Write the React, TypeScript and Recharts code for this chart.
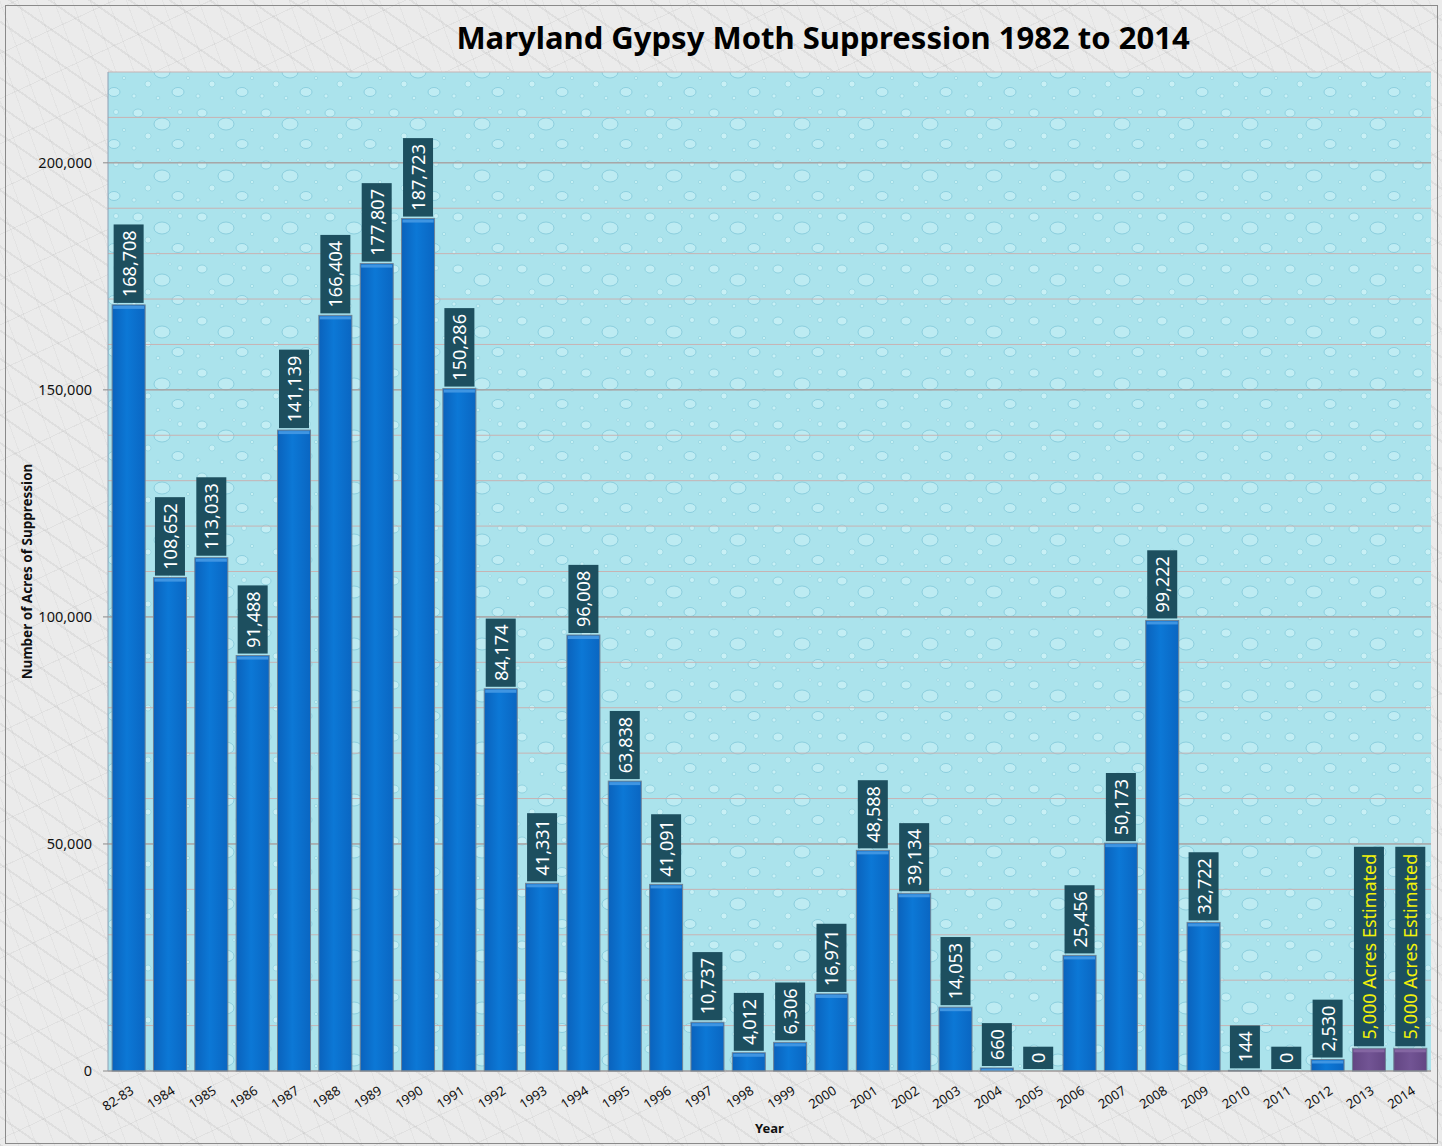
import React from 'react';
import { BarChart, Bar, XAxis, YAxis, CartesianGrid, LabelList } from 'recharts';

const years = [
  '82-83', '1984', '1985', '1986', '1987', '1988', '1989', '1990', '1991', '1992', '1993',
  '1994', '1995', '1996', '1997', '1998', '1999', '2000', '2001', '2002', '2003', '2004',
  '2005', '2006', '2007', '2008', '2009', '2010', '2011', '2012', '2013', '2014',
];
const acres = [
  168708, 108652, 113033, 91488, 141139, 166404, 177807, 187723, 150286, 84174, 41331,
  96008, 63838, 41091, 10737, 4012, 6306, 16971, 48588, 39134, 14053, 660,
  0, 25456, 50173, 99222, 32722, 144, 0, 2530, 5000, 5000,
];
const estimatedYears = ['2013', '2014'];
const estimateText = '5,000 Acres Estimated';
const gridValues = [
  0, 10000, 20000, 30000, 40000, 50000, 60000, 70000, 80000, 90000, 100000, 110000,
  120000, 130000, 140000, 150000, 160000, 170000, 180000, 190000, 200000, 210000, 220000,
];
const labelledTicks = [0, 50000, 100000, 150000, 200000];

const data = years.map((year, i) => ({
  year,
  acres: acres[i],
  estimated: estimatedYears.includes(year),
}));

const FONT = '"Noto Sans", "Open Sans", sans-serif';
const fmt = (v: number) => v.toLocaleString('en-US');

// rough width of a string in Noto Sans, in em
const charWidth = (c: string) => {
  if (/[0-9]/.test(c)) return 0.572;
  if (c === ',' || c === ' ') return 0.26;
  if (c === 'm') return 0.86;
  if (c === 'i' || c === 't' || c === 'r') return 0.36;
  if (/[A-Z]/.test(c)) return 0.6;
  return 0.55;
};
const textWidth = (s: string, fs: number) => s.split('').reduce((a, c) => a + charWidth(c) * fs, 0);

const BarShape = (props: any) => {
  const { x, y, width, height, payload } = props;
  if (!height || height <= 0) return <g />;
  const est = payload && payload.estimated;
  return (
    <g>
      <rect x={x} y={y} width={width} height={height} fill={est ? 'url(#purpleBar)' : 'url(#blueBar)'} stroke="#6f8396" strokeWidth={1} />
      <rect x={x + 1} y={y + 1} width={width - 2} height={Math.min(3, height - 1)} fill={est ? '#8466a2' : '#3f95e2'} />
    </g>
  );
};

const renderLabel = (props: any) => {
  const { x, y, width, value, index } = props;
  const est = data[index] && data[index].estimated;
  const text = est ? estimateText : fmt(Number(value));
  const fs = 18;
  const h = textWidth(text, fs) + 12;
  const bw = 30;
  const cx = x + width / 2;
  const bottom = y - 2;
  const cy = bottom - h / 2;
  return (
    <g>
      <rect x={cx - bw / 2} y={bottom - h} width={bw} height={h} fill="#1d4f5f" />
      <text
        x={cx}
        y={cy}
        transform={`rotate(-90, ${cx}, ${cy})`}
        textAnchor="middle"
        dominantBaseline="central"
        fontSize={fs}
        fontFamily={FONT}
        fill={est ? '#f2f20a' : '#ffffff'}
      >
        {text}
      </text>
    </g>
  );
};

const XTick = (props: any) => {
  const { x, y, payload } = props;
  const tx = x + 6;
  const ty = y + 22;
  return (
    <text x={tx} y={ty} transform={`rotate(-33, ${tx}, ${ty})`} textAnchor="end" fontSize={13} fontFamily={FONT} fill="#111">
      {payload.value}
    </text>
  );
};

const YTick = (props: any) => {
  const { x, y, payload } = props;
  if (!labelledTicks.includes(payload.value)) return <g />;
  return (
    <g>
      <line x1={x - 5} x2={x} y1={y} y2={y} stroke="#8a8a8a" />
      <text x={x - 16} y={y} dy="0.35em" textAnchor="end" fontSize={14.5} fontFamily={FONT} fill="#111">
        {fmt(payload.value)}
      </text>
    </g>
  );
};

const YLabel = (props: any) => {
  const { viewBox } = props;
  const cy = viewBox.y + viewBox.height / 2;
  return (
    <text x={27} y={cy} transform={`rotate(-90, 27, ${cy})`} textAnchor="middle" dominantBaseline="central" fontSize={13.5} fontWeight="bold" fontFamily={FONT} fill="#111">
      Number of Acres of Suppression
    </text>
  );
};

const App: React.FC = () => {
  return (
    <div
      style={{
        position: 'absolute',
        top: 0,
        left: 0,
        width: 1442,
        height: 1146,
        backgroundColor: '#ebebeb',
        backgroundImage:
          'repeating-linear-gradient(35deg, rgba(140,140,140,0.13) 0 2px, transparent 2px 23px), repeating-linear-gradient(-25deg, rgba(120,120,120,0.09) 0 1px, transparent 1px 41px), repeating-linear-gradient(70deg, rgba(160,160,160,0.1) 0 1px, transparent 1px 17px)',
      }}
    >
      <div style={{ position: 'absolute', left: 5, top: 5, width: 1431, height: 1137, border: '1px solid #8a8a8a' }} />
      <div
        style={{
          position: 'absolute',
          left: 423,
          top: 16,
          width: 800,
          textAlign: 'center',
          fontFamily: FONT,
          fontWeight: 'bold',
          fontSize: 31,
          color: '#000',
          whiteSpace: 'nowrap',
        }}
      >
        Maryland Gypsy Moth Suppression 1982 to 2014
      </div>
      <div style={{ position: 'absolute', left: 0, top: 0 }}>
        <BarChart width={1442} height={1146} data={data} margin={{ top: 72, right: 11, left: 0, bottom: 13 }} barCategoryGap="10%">
          <defs>
            <linearGradient id="blueBar" x1="0" y1="0" x2="1" y2="0">
              <stop offset="0%" stopColor="#0a62bc" />
              <stop offset="45%" stopColor="#0c78d6" />
              <stop offset="100%" stopColor="#0a66c2" />
            </linearGradient>
            <linearGradient id="purpleBar" x1="0" y1="0" x2="1" y2="0">
              <stop offset="0%" stopColor="#634683" />
              <stop offset="50%" stopColor="#725494" />
              <stop offset="100%" stopColor="#634683" />
            </linearGradient>
            <pattern id="drops" width="64" height="52" patternUnits="userSpaceOnUse">
              <rect width="64" height="52" fill="#abe3ec" />
              <ellipse cx="10" cy="9" rx="5" ry="4" fill="#c3eef4" stroke="#86cbdb" strokeWidth="0.8" />
              <ellipse cx="34" cy="20" rx="8" ry="6" fill="#bdebf2" stroke="#80c6d8" strokeWidth="0.8" />
              <circle cx="52" cy="8" r="2.5" fill="#c8f0f5" stroke="#8ccfdd" strokeWidth="0.6" />
              <circle cx="20" cy="32" r="3" fill="#c8f0f5" stroke="#8ccfdd" strokeWidth="0.6" />
              <ellipse cx="50" cy="40" rx="6" ry="4.5" fill="#bfecf3" stroke="#82c8d9" strokeWidth="0.8" />
              <circle cx="6" cy="44" r="2" fill="#c8f0f5" stroke="#8ccfdd" strokeWidth="0.6" />
              <circle cx="30" cy="46" r="1.8" fill="#c8f0f5" stroke="#8ccfdd" strokeWidth="0.6" />
              <circle cx="60" cy="26" r="1.6" fill="#c8f0f5" stroke="#8ccfdd" strokeWidth="0.6" />
              <circle cx="42" cy="4" r="1.4" fill="#c8f0f5" stroke="#8ccfdd" strokeWidth="0.5" />
            </pattern>
          </defs>
          <CartesianGrid vertical={false} stroke="#c7b3b3" fill="url(#drops)" fillOpacity={1} />
          <CartesianGrid vertical={false} horizontalValues={[50000, 100000, 150000, 200000]} stroke="#9b9b9b" />
          <XAxis
            dataKey="year"
            interval={0}
            tickSize={0}
            tickMargin={0}
            tickLine={false}
            height={62}
            axisLine={{ stroke: '#8c8c8c' }}
            tick={<XTick />}
            label={{ value: 'Year', position: 'insideBottom', offset: 0, style: { fontFamily: FONT, fontWeight: 'bold', fontSize: 13, fill: '#111' } }}
          />
          <XAxis xAxisId="top" orientation="top" height={0} tick={false} tickLine={false} axisLine={{ stroke: '#8fb0d0' }} />
          <YAxis
            domain={[0, 220000]}
            ticks={gridValues}
            interval={0}
            tickSize={0}
            tickMargin={0}
            tickLine={false}
            width={108}
            axisLine={{ stroke: '#8ea0b4' }}
            tick={<YTick />}
            label={<YLabel />}
          />
          <YAxis yAxisId="right" orientation="right" width={0} tick={false} tickLine={false} axisLine={{ stroke: '#8fb0d0' }} />
          <Bar dataKey="acres" isAnimationActive={false} shape={<BarShape />}>
            <LabelList dataKey="acres" content={renderLabel} />
          </Bar>
        </BarChart>
      </div>
    </div>
  );
};

export default App;
